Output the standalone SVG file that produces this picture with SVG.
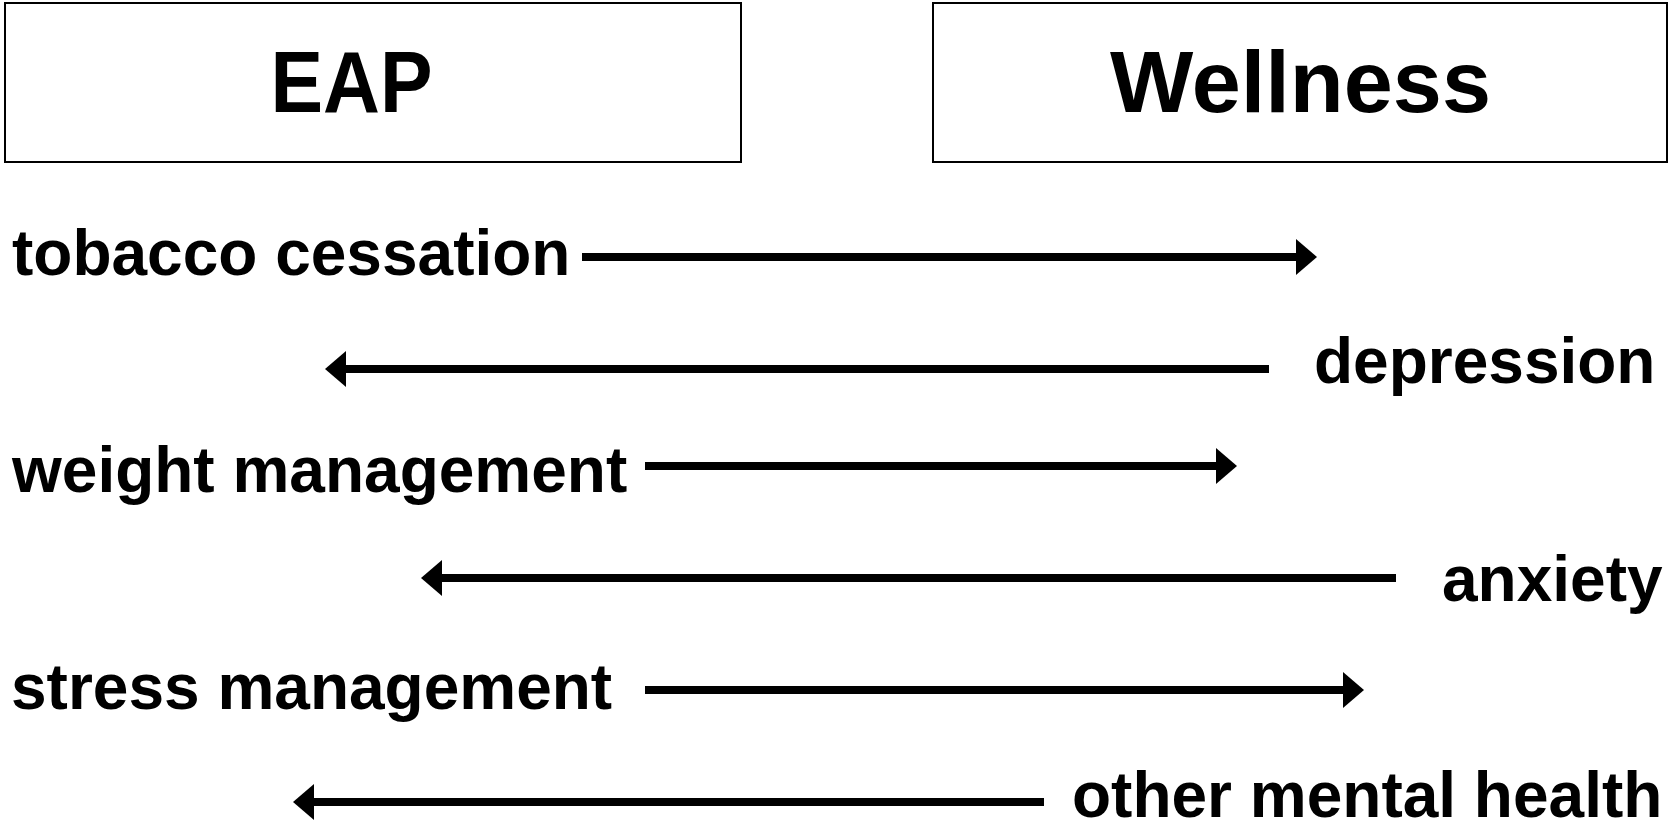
<svg xmlns="http://www.w3.org/2000/svg" width="1669" height="826" viewBox="0 0 1669 826">
<style>
.box{fill:#fff;stroke:#000;stroke-width:2}
.hdr{font-family:"Liberation Sans",Arial,sans-serif;font-weight:bold;font-size:88px;fill:#000;text-anchor:middle}
.lbl{font-family:"Liberation Sans",Arial,sans-serif;font-weight:bold;font-size:64px;fill:#000}
.arr{stroke:#000;stroke-width:8;fill:none;marker-end:url(#head)}
</style>
<defs>
<marker id="head" markerUnits="userSpaceOnUse" viewBox="0 -18 21 36" refX="0" refY="0" markerWidth="21" markerHeight="36" orient="auto" overflow="visible">
<path d="M0,-18 L21,0 L0,18 Z" fill="#000"/>
</marker>
</defs>
<rect width="1669" height="826" fill="#fff"/>
<g id="eap">
<rect class="box" x="5" y="3" width="736" height="159"/>
<text class="hdr" x="351.5" y="112" textLength="162" lengthAdjust="spacingAndGlyphs">EAP</text>
</g>
<g id="wellness">
<rect class="box" x="933" y="3" width="734" height="159"/>
<text class="hdr" x="1300.5" y="112" textLength="381" lengthAdjust="spacingAndGlyphs">Wellness</text>
</g>
<g id="tobacco"><text class="lbl" x="12" y="274.5">tobacco cessation</text></g>
<g id="depression"><text class="lbl" x="1314" y="383">depression</text></g>
<g id="weight"><text class="lbl" x="12" y="492">weight management</text></g>
<g id="anxiety"><text class="lbl" x="1442" y="601">anxiety</text></g>
<g id="stress"><text class="lbl" x="11" y="708.5">stress management</text></g>
<g id="other"><text class="lbl" x="1072" y="817">other mental health</text></g>
<g id="connectors">
<line class="arr" x1="582" y1="257" x2="1296" y2="257"/>
<line class="arr" x1="1269" y1="369" x2="346" y2="369"/>
<line class="arr" x1="645" y1="466" x2="1216" y2="466"/>
<line class="arr" x1="1396" y1="578" x2="442" y2="578"/>
<line class="arr" x1="645" y1="690" x2="1343" y2="690"/>
<line class="arr" x1="1044" y1="802" x2="314" y2="802"/>
</g>
</svg>
